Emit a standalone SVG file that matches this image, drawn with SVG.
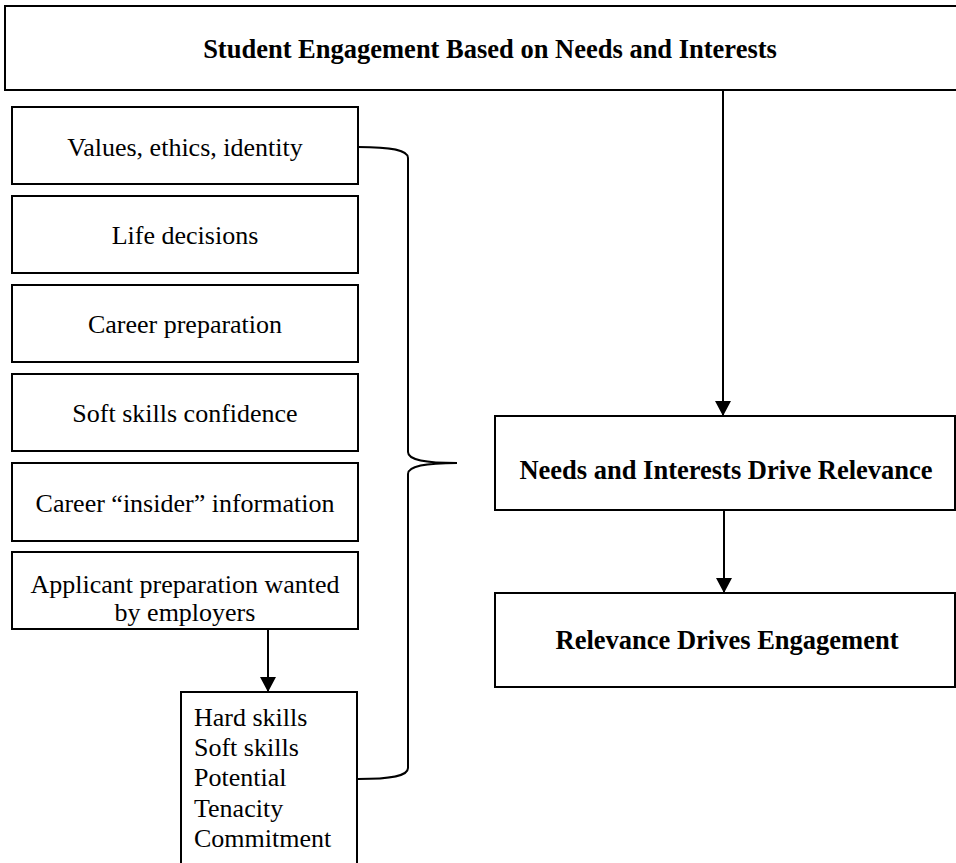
<svg xmlns="http://www.w3.org/2000/svg" width="956" height="863" viewBox="0 0 956 863">
<style>
.box{fill:#fff;stroke:#000;stroke-width:2}
.t{font-family:"Liberation Serif","Times New Roman",serif;font-size:26px;fill:#000}
.b{font-family:"Liberation Serif","Times New Roman",serif;font-size:26.5px;font-weight:bold;fill:#000}
.c{text-anchor:middle}
.ln{fill:none;stroke:#000;stroke-width:2}
</style>
<defs>
<marker id="arr" markerWidth="15" markerHeight="16" refX="15" refY="8" orient="auto" markerUnits="userSpaceOnUse">
<path d="M0,0 L15,8 L0,16 Z" fill="#000"/>
</marker>
</defs>
<rect width="956" height="863" fill="#fff"/>
<g id="title">
<rect class="box" x="5" y="6" width="960" height="84"/>
<text class="b c" x="490" y="58">Student Engagement Based on Needs and Interests</text>
</g>
<g id="values">
<rect class="box" x="12" y="107" width="346" height="77"/>
<text class="t c" x="185" y="156">Values, ethics, identity</text>
</g>
<g id="life">
<rect class="box" x="12" y="196" width="346" height="77"/>
<text class="t c" x="185" y="244">Life decisions</text>
</g>
<g id="career">
<rect class="box" x="12" y="285" width="346" height="77"/>
<text class="t c" x="185" y="333">Career preparation</text>
</g>
<g id="soft">
<rect class="box" x="12" y="374" width="346" height="77"/>
<text class="t c" x="185" y="422">Soft skills confidence</text>
</g>
<g id="insider">
<rect class="box" x="12" y="463" width="346" height="78"/>
<text class="t c" x="185" y="512">Career “insider” information</text>
</g>
<g id="applicant">
<rect class="box" x="12" y="552" width="346" height="77"/>
<text class="t c" x="185" y="593">Applicant preparation wanted</text>
<text class="t c" x="185" y="621">by employers</text>
</g>
<g id="skills">
<rect class="box" x="181" y="692" width="176" height="190"/>
<text class="t" x="194" y="726">Hard skills</text>
<text class="t" x="194" y="756">Soft skills</text>
<text class="t" x="194" y="786">Potential</text>
<text class="t" x="194" y="817">Tenacity</text>
<text class="t" x="194" y="847">Commitment</text>
</g>
<g id="needs">
<rect class="box" x="495" y="416" width="460" height="94"/>
<text class="b c" x="726" y="479">Needs and Interests Drive Relevance</text>
</g>
<g id="relevance">
<rect class="box" x="495" y="593" width="460" height="94"/>
<text class="b c" x="727" y="649">Relevance Drives Engagement</text>
</g>
<g id="connectors">
<line class="ln" x1="723" y1="90" x2="723" y2="416" marker-end="url(#arr)"/>
<line class="ln" x1="724" y1="510" x2="724" y2="593" marker-end="url(#arr)"/>
<line class="ln" x1="268" y1="629" x2="268" y2="692" marker-end="url(#arr)"/>
<path class="ln" d="M358,147 C392,147 408,150 408,158 L408,452 C408,460 425,463 457,463 M457,463 C425,463 408,466 408,474 L408,768 C408,776 392,779 358,779"/>
</g>
</svg>
